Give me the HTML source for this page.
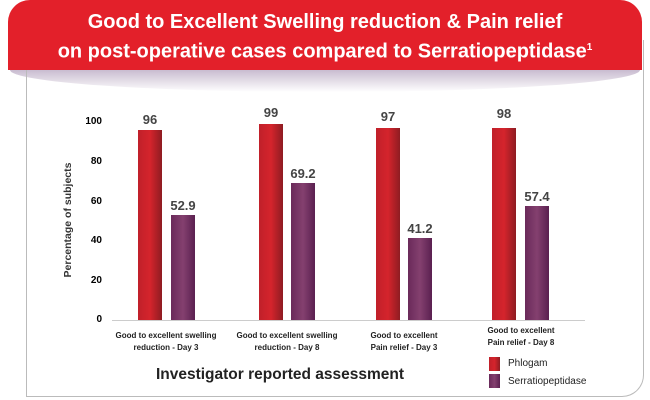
<!DOCTYPE html>
<html><head><style>
body{margin:0;width:650px;height:400px;background:#fff;overflow:hidden;position:relative;font-family:"Liberation Sans",sans-serif}
.card{position:absolute;left:26px;top:40px;width:618px;height:357px;border:1.5px solid #bbb;border-top:none;border-radius:0 0 22px 0;box-sizing:border-box}
.shadow{position:absolute;left:10px;top:70px;width:630px;height:22px;background:linear-gradient(#c9bcd0,rgba(255,255,255,0));border-radius:0 0 50% 50%/0 0 100% 100%}
.banner{position:absolute;left:8px;top:0;width:634px;height:70px;background:#e3202a;border-radius:22px 22px 0 0;color:#fff;font-weight:bold;font-size:20px;text-align:center;line-height:26px;padding-top:9px;box-sizing:border-box}
.t{position:absolute;font-weight:bold;color:#333}
.bar{position:absolute;width:24px}
.r{background:linear-gradient(90deg,#c0202a,#d5242c 50%,#8e1c22)}
.p{background:linear-gradient(90deg,#6a2a5a,#84406f 50%,#5a2050)}
.v{position:absolute;font-weight:bold;font-size:13px;color:#444;width:60px;text-align:center}
.c{position:absolute;font-size:8px;font-weight:bold;color:#222;width:140px;text-align:center;line-height:12px}
.y{position:absolute;font-size:10px;font-weight:bold;width:30px;text-align:right;left:72px}
</style></head><body>
<div class="shadow"></div>
<div class="card"></div>
<div class="banner">Good to Excellent Swelling reduction &amp; Pain relief<br>on post-operative cases compared to Serratiopeptidase<sup style="font-size:10px">1</sup></div>
<div style="position:absolute;left:112px;top:320px;width:473px;height:1px;background:#ccc"></div>
<div class="y" style="top:116px">100</div>
<div class="y" style="top:156px">80</div>
<div class="y" style="top:196px">60</div>
<div class="y" style="top:235px">40</div>
<div class="y" style="top:275px">20</div>
<div class="y" style="top:314px">0</div>
<div class="t" style="left:-2px;top:214px;font-size:10.5px;transform:rotate(-90deg);width:140px;text-align:center">Percentage of subjects</div>

<div class="bar r" style="left:138px;top:130px;height:190px"></div>
<div class="bar p" style="left:171px;top:215px;height:105px"></div>
<div class="bar r" style="left:259px;top:124px;height:196px"></div>
<div class="bar p" style="left:291px;top:183px;height:137px"></div>
<div class="bar r" style="left:376px;top:128px;height:192px"></div>
<div class="bar p" style="left:408px;top:238px;height:82px"></div>
<div class="bar r" style="left:492px;top:128px;height:192px"></div>
<div class="bar p" style="left:525px;top:206px;height:114px"></div>

<div class="v" style="left:120px;top:112px">96</div>
<div class="v" style="left:153px;top:198px">52.9</div>
<div class="v" style="left:241px;top:105px">99</div>
<div class="v" style="left:273px;top:166px">69.2</div>
<div class="v" style="left:358px;top:109px">97</div>
<div class="v" style="left:390px;top:221px">41.2</div>
<div class="v" style="left:474px;top:106px">98</div>
<div class="v" style="left:507px;top:189px">57.4</div>

<div class="c" style="left:96px;top:330px">Good to excellent swelling<br>reduction - Day 3</div>
<div class="c" style="left:217px;top:330px">Good to excellent swelling<br>reduction - Day 8</div>
<div class="c" style="left:334px;top:330px">Good to excellent<br>Pain relief - Day 3</div>
<div class="c" style="left:451px;top:325px">Good to excellent<br>Pain relief - Day 8</div>

<div class="t" style="left:150px;top:366px;font-size:15.5px;width:260px;text-align:center;color:#222">Investigator reported assessment</div>
<div class="r" style="position:absolute;left:489px;top:357px;width:11px;height:14px"></div>
<div class="p" style="position:absolute;left:489px;top:374px;width:11px;height:14px"></div>
<div style="position:absolute;left:508px;top:358px;font-size:10px;color:#222">Phlogam</div>
<div style="position:absolute;left:508px;top:376px;font-size:10px;color:#222">Serratiopeptidase</div>
</body></html>
